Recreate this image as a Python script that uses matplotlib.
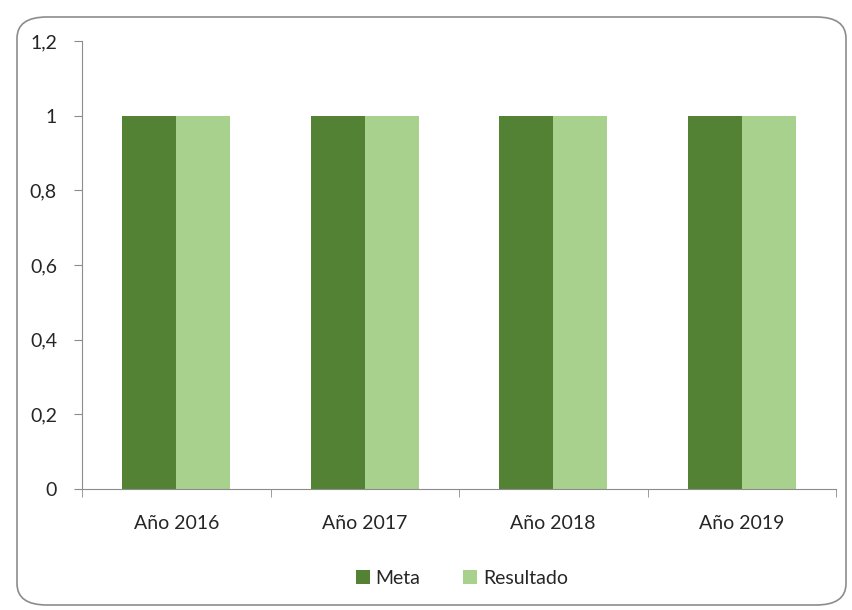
import numpy as np
import matplotlib
matplotlib.use("Agg")
import matplotlib.pyplot as plt
from matplotlib.patches import FancyBboxPatch

# data
categories = ["Año 2016", "Año 2017", "Año 2018", "Año 2019"]
meta = [1, 1, 1, 1]
resultado = [1, 1, 1, 1]
y_ticks = [0, 0.2, 0.4, 0.6, 0.8, 1, 1.2]
y_labels = ["0", "0,2", "0,4", "0,6", "0,8", "1", "1,2"]

plt.rcParams['font.family'] = ['Lato', 'DejaVu Sans']

fig = plt.figure(figsize=(8.52, 6.1), dpi=100)
ax = fig.add_axes([82/852, 1-489/610, 754/852, 448/610])

# rounded outer frame
frame = FancyBboxPatch((17/852, 5/610), 829/852, 588/610,
                       boxstyle="round,pad=0,rounding_size=0.035",
                       transform=fig.transFigure, fill=False,
                       edgecolor="#8c8c8c", linewidth=1.2)
fig.patches.append(frame)

x = np.arange(len(categories))
w = 54/188
ax.bar(x - w/2, meta, w, color="#548235", label="Meta")
ax.bar(x + w/2, resultado, w, color="#a9d18e", label="Resultado")

ax.set_xlim(-0.5, len(categories) - 0.5)
ax.set_ylim(0, 1.2)
ax.set_yticks(y_ticks)
ax.set_yticklabels(y_labels)
ax.set_xticks(x)
ax.set_xticklabels(categories)
ax.set_xticks(np.arange(-0.5, len(categories)), minor=True)

for s in ["top", "right"]:
    ax.spines[s].set_visible(False)
for s in ["left", "bottom"]:
    ax.spines[s].set_color("#8c8c8c")
ax.tick_params(axis="y", length=6, color="#8c8c8c", labelsize=14, labelcolor="#262626", pad=12)
ax.tick_params(axis="x", which="major", length=0, labelsize=14, labelcolor="#262626", pad=19)
ax.tick_params(axis="x", which="minor", length=6, color="#8c8c8c")

ax.legend(loc="center", bbox_to_anchor=(462/852, 1-578/610), bbox_transform=fig.transFigure,
          ncol=2, frameon=False, fontsize=14, handlelength=0.7, handleheight=0.7,
          handletextpad=0.3, columnspacing=2.2, labelcolor="#262626")

fig.savefig("out.png", dpi=100)
